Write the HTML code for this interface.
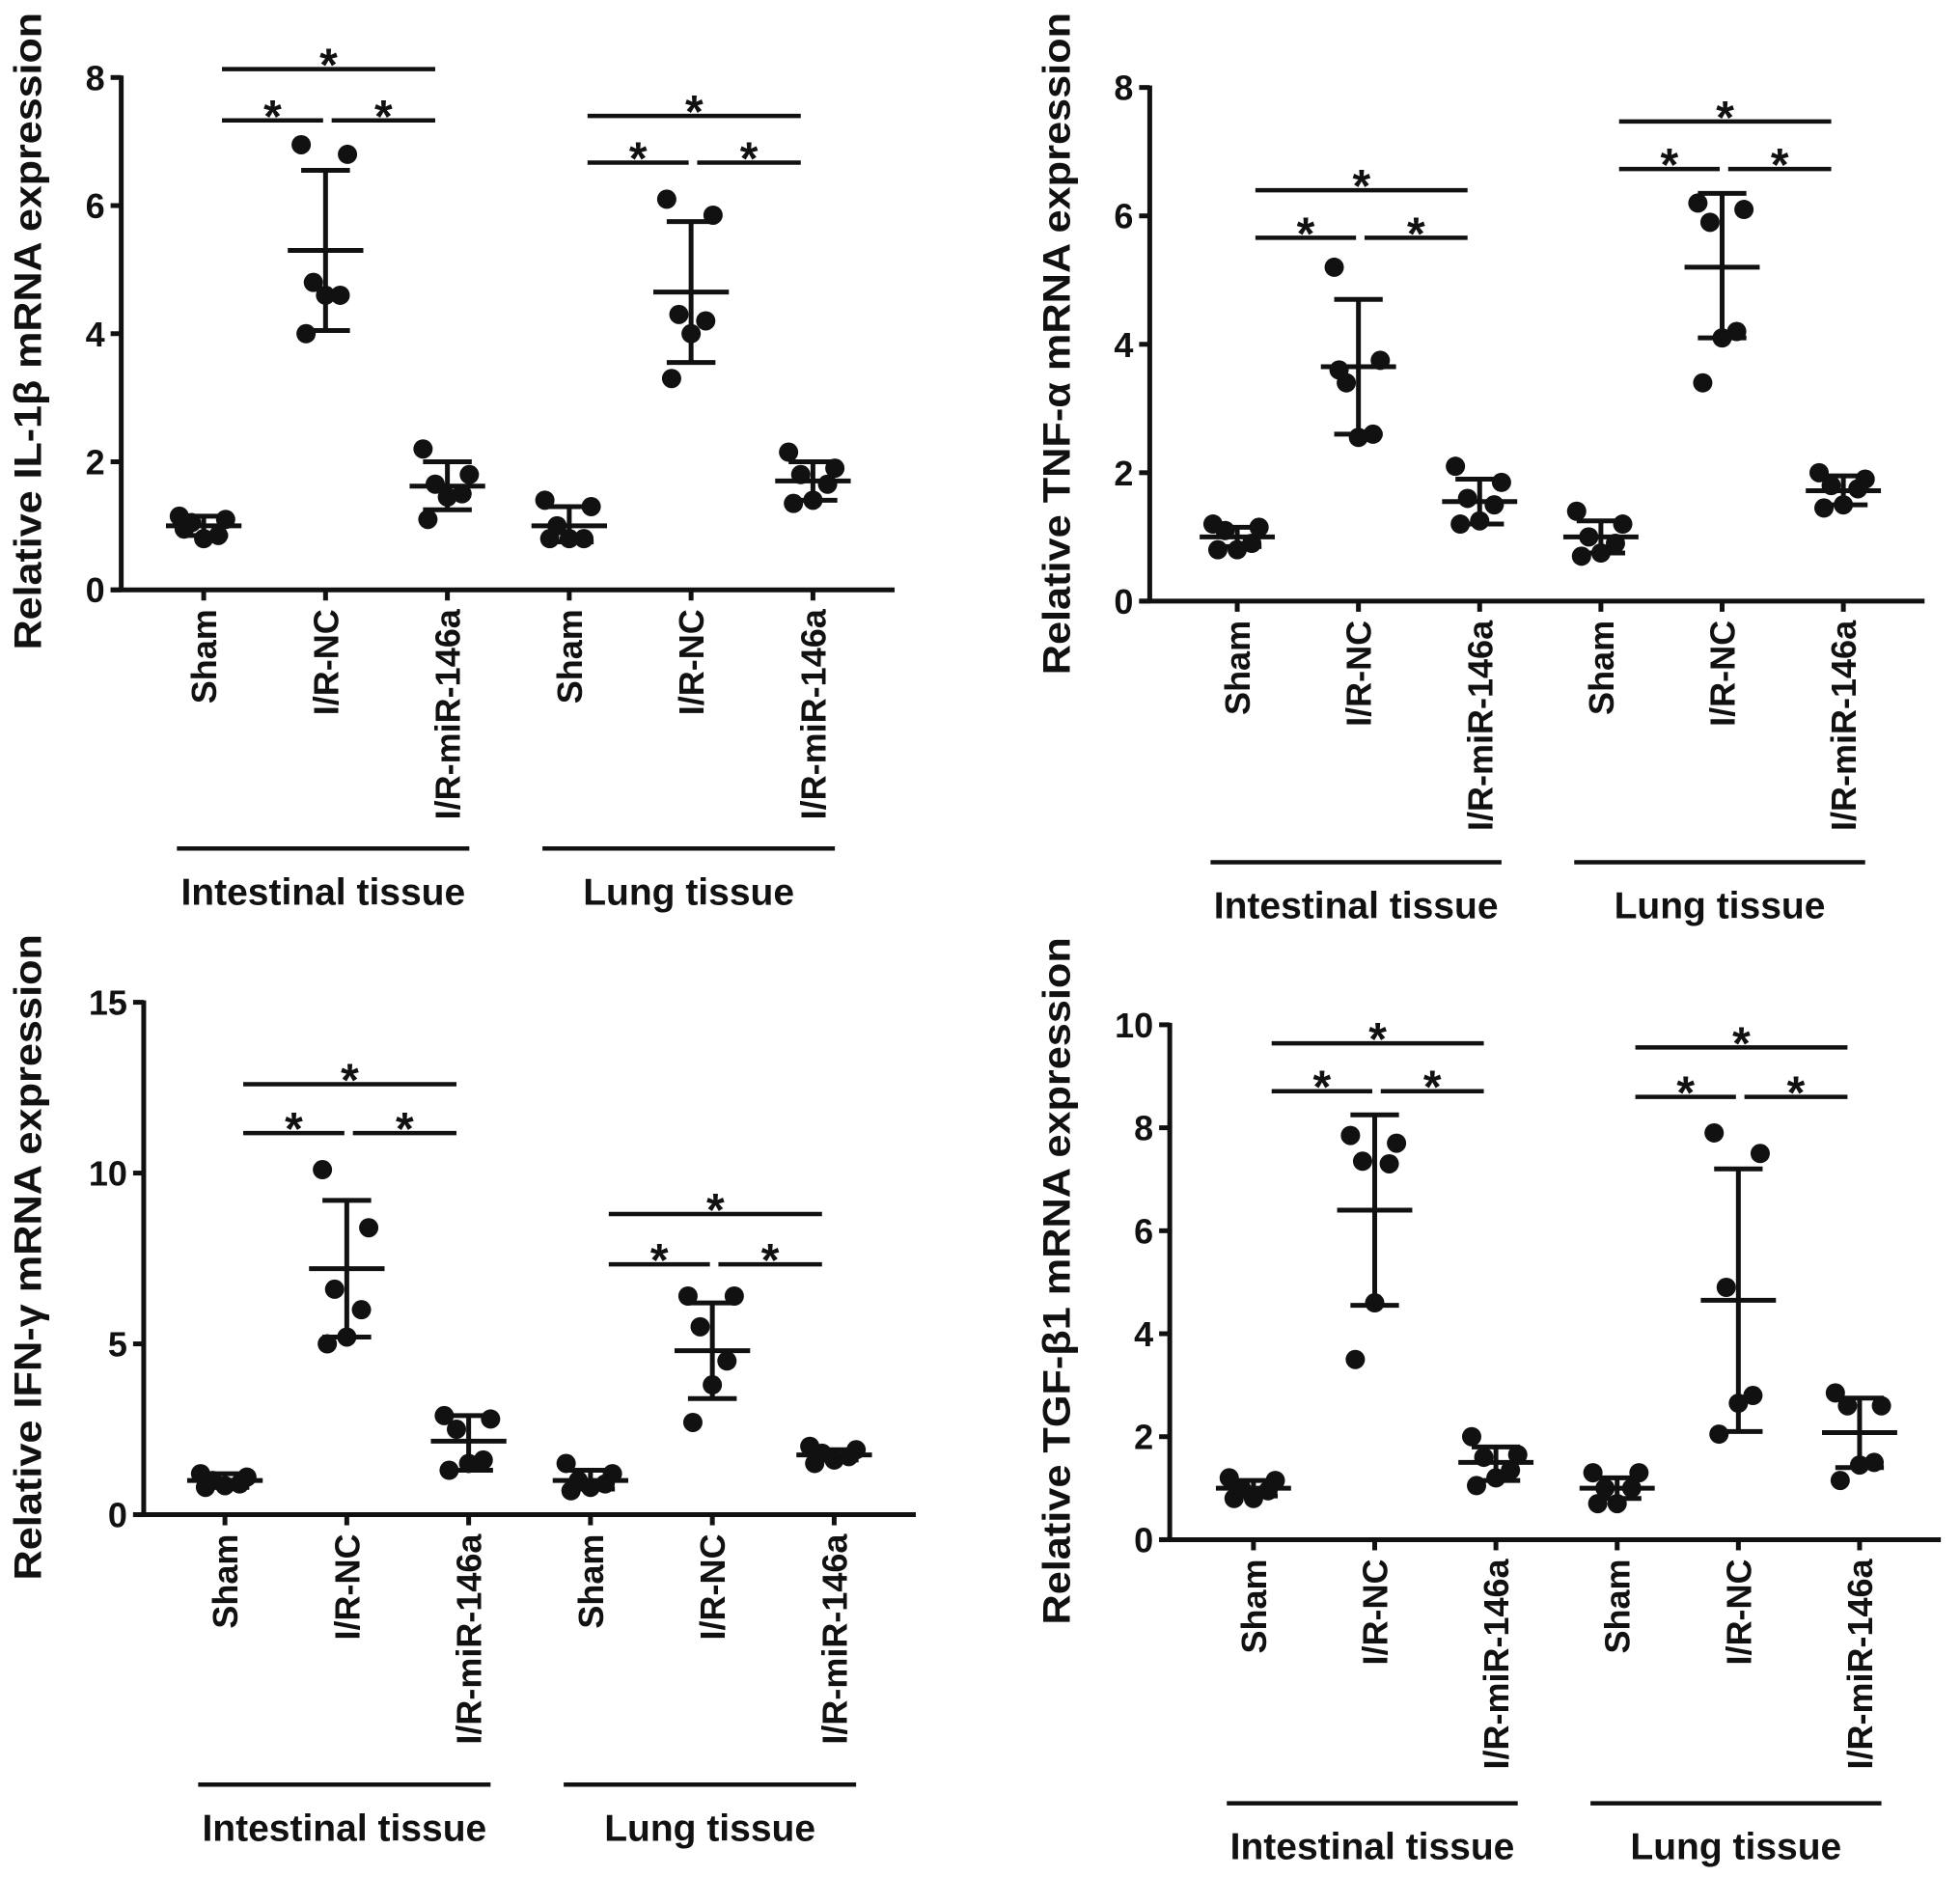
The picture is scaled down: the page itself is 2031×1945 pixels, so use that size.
<!DOCTYPE html>
<html><head><meta charset="utf-8"><style>
html,body{margin:0;padding:0;background:#fff;}
svg{display:block;font-family:"Liberation Sans",Arial,sans-serif;}
</style></head><body>
<svg id="fig" xmlns="http://www.w3.org/2000/svg" width="2031" height="1945" viewBox="0 0 2031 1945"></svg>
<script>
// ---------- data ----------
const categories = ["Sham","I/R-NC","I/R-miR-146a","Sham","I/R-NC","I/R-miR-146a"];
const groups = ["Intestinal tissue","Lung tissue"];

const il1bPoints = [[1.15,1.1,1.05,0.85,0.8,0.95],[6.95,6.8,4.8,4.6,4.6,4.0],[2.2,1.8,1.65,1.5,1.45,1.1],[1.4,1.3,1.0,0.8,0.8,0.8],[6.1,5.85,4.3,4.2,4.0,3.3],[2.15,1.9,1.8,1.65,1.4,1.35]];
const il1bMean = [1.0,5.3,1.62,1.0,4.65,1.7];
const il1bLow = [0.85,4.05,1.25,0.75,3.55,1.4];
const il1bHigh = [1.15,6.55,2.0,1.3,5.75,2.0];
const il1bSig = [[8.13,7.33],[7.4,6.67]];
const il1bTicks = [0,2,4,6,8];

const tnfPoints = [[1.2,1.15,1.1,0.9,0.8,0.8],[5.2,3.75,3.4,2.6,2.55,3.6],[2.1,1.85,1.6,1.5,1.25,1.2],[1.4,1.2,1.0,0.9,0.75,0.7],[6.2,6.1,5.9,4.2,4.1,3.4],[2.0,1.9,1.8,1.75,1.5,1.45]];
const tnfMean = [1.0,3.65,1.55,1.0,5.2,1.72];
const tnfLow = [0.85,2.6,1.2,0.75,4.1,1.5];
const tnfHigh = [1.15,4.7,1.9,1.25,6.35,1.95];
const tnfSig = [[6.4,5.66],[7.47,6.73]];
const tnfTicks = [0,2,4,6,8];

const ifnPoints = [[1.2,1.1,1.0,0.9,0.85,0.8],[10.1,8.4,6.6,6.0,5.2,5.0],[2.9,2.8,2.5,1.6,1.5,1.3],[1.5,1.2,1.0,0.9,0.8,0.7],[6.4,6.4,5.5,4.5,3.8,2.7],[2.0,1.9,1.8,1.7,1.6,1.5]];
const ifnMean = [1.0,7.2,2.15,1.0,4.8,1.75];
const ifnLow = [0.8,5.2,1.3,0.75,3.4,1.6];
const ifnHigh = [1.2,9.2,2.9,1.3,6.2,1.9];
const ifnSig = [[12.6,11.17],[8.8,7.33]];
const ifnTicks = [0,5,10,15];

const tgfPoints = [[1.2,1.15,1.0,0.95,0.8,0.8],[7.85,7.7,7.35,7.3,4.6,3.5],[2.0,1.65,1.6,1.35,1.2,1.05],[1.3,1.3,1.0,1.0,0.7,0.7],[7.9,7.5,4.9,2.8,2.65,2.05],[2.85,2.6,2.6,1.5,1.45,1.15]];
const tgfMean = [1.0,6.4,1.5,1.0,4.65,2.08];
const tgfLow = [0.85,4.55,1.15,0.8,2.1,1.4];
const tgfHigh = [1.15,8.25,1.8,1.2,7.2,2.75];
const tgfSig = [[9.64,8.71],[9.56,8.6]];
const tgfTicks = [0,2,4,6,8,10];

// ---------- layout ----------
const S = 1.295;
const NS = "http://www.w3.org/2000/svg";
const svg = document.getElementById("fig");
const jitter = [-0.2,0.18,-0.1,0.12,0.0,-0.16];
const LW = 5;

function mk(tag, attrs, parent){
  const e = document.createElementNS(NS, tag);
  for (const k in attrs) e.setAttribute(k, attrs[k]);
  (parent||svg).appendChild(e);
  return e;
}

function panel(cfg){
  const g = mk("g", {});
  
  
  const ax = cfg.ax*S, y0 = cfg.y0*S, yT = cfg.yTop*S;
  const maxV = cfg.ticks[cfg.ticks.length-1];
  const yS = v => y0 - (y0 - yT) * v / maxV;
  const sp = (cfg.cat1 - cfg.cat0)*S;
  const xS = i => cfg.cat0*S + i*sp;
  const axRight = xS(5) + 0.67*sp;
  const yax = mk("line",{x1:ax,y1:yT-2,x2:ax,y2:y0,stroke:"#111","stroke-width":LW},g);
  
  
  const xax = mk("line",{x1:ax-11,y1:y0,x2:axRight,y2:y0,stroke:"#111","stroke-width":LW},g);
  
  
  cfg.ticks.forEach(t=>{
    mk("line",{x1:ax-11,y1:yS(t),x2:ax,y2:yS(t),stroke:"#111","stroke-width":LW},g);
    const tl = mk("text",{x:ax-17,y:yS(t)+13,"text-anchor":"end","font-size":36,"font-weight":"bold",fill:"#111"},g);
    tl.textContent = t;
    
    
  });
  const cy = cfg.labCy*S, lx = cfg.labX*S;
  const yl = mk("text",{x:0,y:0,transform:`translate(${lx+14},${cy}) rotate(-90)`,"text-anchor":"middle","font-size":40,"font-weight":"bold",fill:"#111",textLength:cfg.labLen*S,lengthAdjust:"spacingAndGlyphs"},g);
  yl.textContent = cfg.label;
  
  
  categories.forEach((c,i)=>{
    const x = xS(i);
    mk("line",{x1:x,y1:y0,x2:x,y2:y0+11,stroke:"#111","stroke-width":LW},g);
    const t = mk("text",{x:0,y:0,transform:`translate(${x+13},${y0+20}) rotate(-90)`,"text-anchor":"end","font-size":36,"font-weight":"bold",fill:"#111"},g);
    t.textContent = c;
    
    
  });
  groups.forEach((gname,k)=>{
    const xa = xS(3*k) - 0.22*sp, xb = xS(3*k+2) + 0.18*sp;
    const ul = mk("line",{x1:xa,y1:cfg.ulY*S,x2:xb,y2:cfg.ulY*S,stroke:"#111","stroke-width":4.5},g);
    
    
    const gt = mk("text",{x:(xa+xb)/2,y:cfg.ulY*S+58,"text-anchor":"middle","font-size":39,"font-weight":"bold",fill:"#111"},g);
    gt.textContent = gname;
    
    
  });
  cfg.points.forEach((arr,i)=>{
    arr.forEach((v,j)=>{
      const d = mk("circle",{cx:xS(i)+jitter[j]*sp,cy:yS(v),r:10,fill:"#111"},g);
      
      
    });
    const m = mk("line",{x1:xS(i)-0.31*sp,y1:yS(cfg.mean[i]),x2:xS(i)+0.31*sp,y2:yS(cfg.mean[i]),stroke:"#111","stroke-width":LW},g);
    
    
    const e = mk("line",{x1:xS(i),y1:yS(cfg.low[i]),x2:xS(i),y2:yS(cfg.high[i]),stroke:"#111","stroke-width":LW},g);
    
    
    [cfg.low[i],cfg.high[i]].forEach(v=>{
      mk("line",{x1:xS(i)-0.2*sp,y1:yS(v),x2:xS(i)+0.2*sp,y2:yS(v),stroke:"#111","stroke-width":LW},g);
    });
  });
  cfg.sig.forEach((lv,k)=>{
    const c0 = xS(3*k), c1 = xS(3*k+1), c2 = xS(3*k+2);
    const segs = [[c0+0.15*sp,c2-0.1*sp,lv[0]],[c0+0.15*sp,c1-0.02*sp,lv[1]],[c1+0.05*sp,c2-0.1*sp,lv[1]]];
    segs.forEach(s=>{
      const l = mk("line",{x1:s[0],y1:yS(s[2]),x2:s[1],y2:yS(s[2]),stroke:"#111","stroke-width":4.5},g);
      
      
      const st = mk("text",{x:(s[0]+s[1])/2,y:yS(s[2])+12,"text-anchor":"middle","font-size":48,"font-weight":"bold",fill:"#111"},g);
      st.textContent = "*";
      
      
    });
  });
}

panel({name:"il1b-panel",ax:97,y0:472,yTop:62,cat0:163,cat1:260.5,ticks:il1bTicks,points:il1bPoints,mean:il1bMean,low:il1bLow,high:il1bHigh,sig:il1bSig,label:"Relative IL-1β mRNA expression",labX:22,labCy:265,labLen:510,ulY:679});
panel({name:"tnf-panel",ax:920,y0:481,yTop:70,cat0:990,cat1:1087,ticks:tnfTicks,points:tnfPoints,mean:tnfMean,low:tnfLow,high:tnfHigh,sig:tnfSig,label:"Relative TNF-α mRNA expression",labX:845,labCy:275,labLen:530,ulY:690});
panel({name:"ifn-panel",ax:115,y0:1212,yTop:802,cat0:180,cat1:277.5,ticks:ifnTicks,points:ifnPoints,mean:ifnMean,low:ifnLow,high:ifnHigh,sig:ifnSig,label:"Relative IFN-γ mRNA expression",labX:22,labCy:1006,labLen:517,ulY:1428});
panel({name:"tgf-panel",ax:936,y0:1232,yTop:820,cat0:1003,cat1:1100,ticks:tgfTicks,points:tgfPoints,mean:tgfMean,low:tgfLow,high:tgfHigh,sig:tgfSig,label:"Relative TGF-β1 mRNA expression",labX:845,labCy:1025,labLen:550,ulY:1443});
</script>
</body></html>
